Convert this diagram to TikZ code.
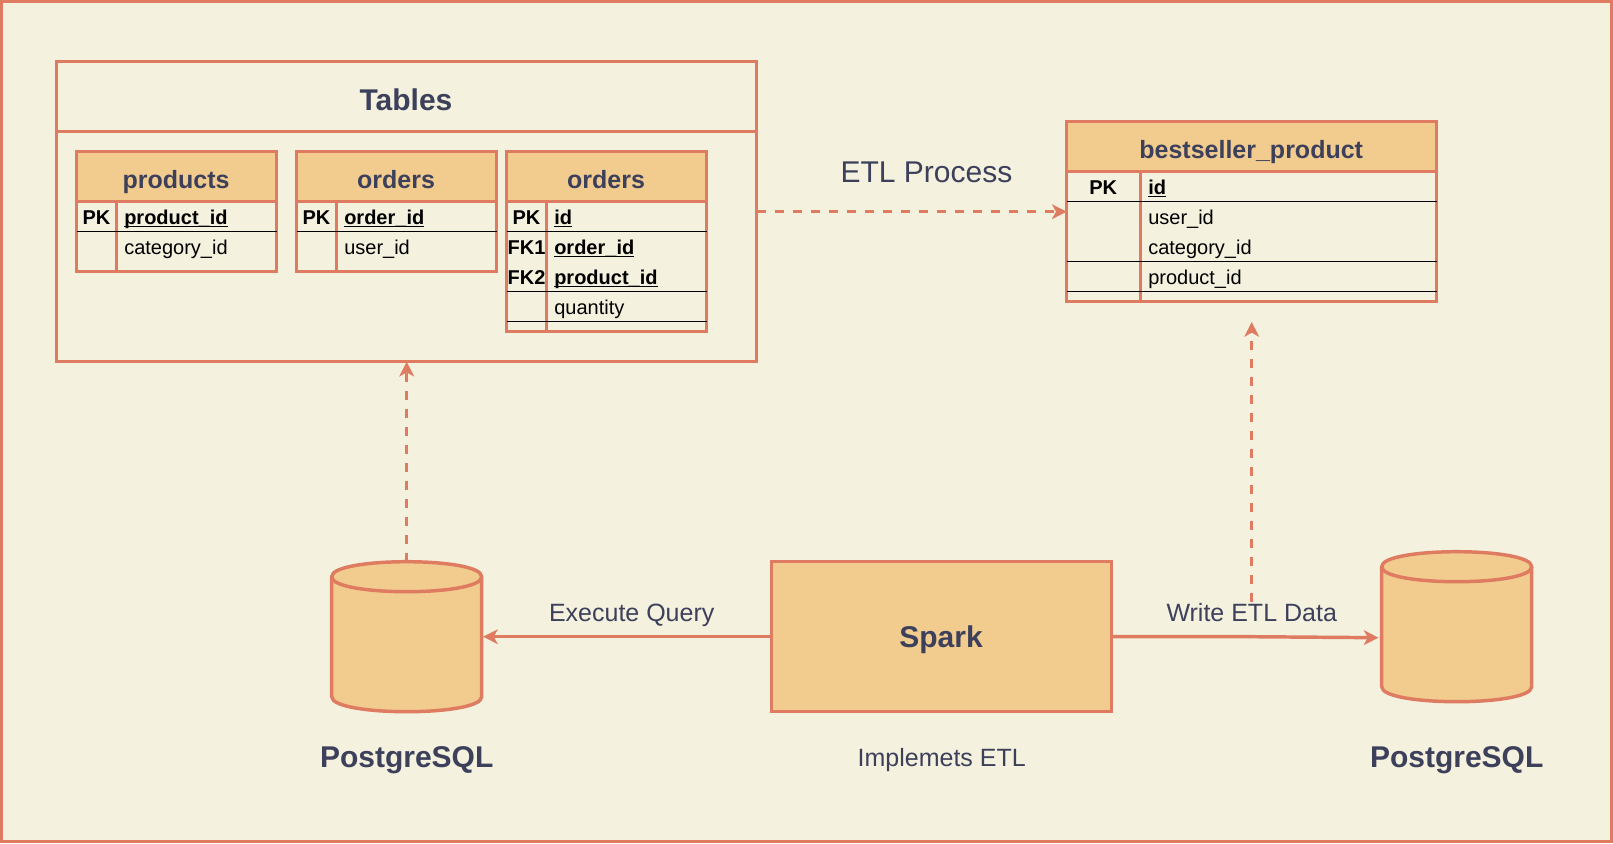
\documentclass[tikz,border=0pt]{standalone}
\usepackage{fontspec}
\setmainfont{Liberation Sans}
\usetikzlibrary{arrows.meta}
\definecolor{bgc}{HTML}{F4F1DE}
\definecolor{linec}{HTML}{DE7B60}
\definecolor{fillc}{HTML}{F2CC8F}
\definecolor{textc}{HTML}{3D405B}
\newcommand\ulbold[1]{\setbox0\hbox{#1}\rlap{\rule[-1.9pt]{\wd0}{1.1pt}}\box0}
\newcommand\ulfield[1]{\ulbold{\bfseries #1}}
\tikzset{
  x=0.75pt,y=-0.75pt,
  orange line/.style={draw=linec,line width=2.6pt},
  boxnode/.style={orange line,inner sep=0pt,outer sep=0pt,anchor=north west,line join=miter},
  cyl/.style={orange line,fill=fillc,line join=round},
  thinrow/.style={draw=black,line width=0.95pt},
  cellt/.style={inner sep=0pt,anchor=base west,text=black,font=\fontsize{15pt}{15pt}\selectfont},
  cellc/.style={inner sep=0pt,anchor=base,text=black,font=\fontsize{15pt}{15pt}\selectfont\bfseries},
  title/.style={inner sep=0pt,anchor=base,text=textc,font=\fontsize{18.75pt}{18.75pt}\selectfont\bfseries},
  bigtitle/.style={inner sep=0pt,anchor=base,text=textc,font=\fontsize{22.5pt}{22.5pt}\selectfont\bfseries},
  lab/.style={inner sep=0pt,anchor=base,text=textc,font=\fontsize{18.75pt}{18.75pt}\selectfont},
  biglab/.style={inner sep=0pt,anchor=base,text=textc,font=\fontsize{22.5pt}{22.5pt}\selectfont},
  solidarrow/.style={orange line,-{Stealth[length=11pt,width=11pt,inset=3pt]}},
  dasharrow/.style={orange line,dash pattern=on 6.75pt off 6.75pt,-{Stealth[length=11pt,width=11pt,inset=3pt]}},
}
% table frame: name, x1, y1, x2, y2, divider x
\newcommand\tableframe[6]{%
  \fill[fillc] (#2,#3) rectangle (#4,#3+50);
  \node[boxnode,minimum width=(#4-#2)*0.75pt,minimum height=(#5-#3)*0.75pt] (#1) at (#2,#3) {};
  \draw[orange line] (#2,#3+50) -- (#4,#3+50);
  \draw[orange line] (#6,#3+50) -- (#6,#5);
}
\newcommand\cylinder[3]{% name, left, top
  \draw[cyl] (#2,#3+15) .. controls (#2,#3-5) and (#2+150,#3-5) .. (#2+150,#3+15)
    -- (#2+150,#3+135) .. controls (#2+150,#3+155) and (#2,#3+155) .. (#2,#3+135) -- cycle;
  \draw[cyl,fill=none] (#2,#3+15) .. controls (#2,#3+35) and (#2+150,#3+35) .. (#2+150,#3+15);
  \node[inner sep=0pt,outer sep=0pt,minimum width=112.5pt,minimum height=112.5pt,anchor=north west] (#1) at (#2,#3) {};
}
\begin{document}
\begin{tikzpicture}
\useasboundingbox (0,0) rectangle (1613,843);
\fill[bgc] (0,0) rectangle (1613,843);
\draw[orange line] (1.7,1.7) rectangle (1611.3,841.3);

% Tables container
\node[boxnode,minimum width=525pt,minimum height=225pt] (tables) at (56.7,61.7) {};
\coordinate (tablesl) at (56.7,131.7);
\coordinate (tablesr) at (756.7,131.7);
\draw[orange line] (tablesl) -- (tablesr);
\node[bigtitle] (tablestitle) at (406,110.2) {Tables};

% products
\tableframe{prod}{76.7}{151.7}{276.7}{271.7}{116.7}
\node[title] (prodt) at (176,188.5) {products};
\draw[thinrow] (76.7,231.7) -- (276.7,231.7);
\node[cellc] (prodpk) at (96.5,224.5) {PK};
\node[cellt] (proda) at (124,224.5) {\ulfield{product\_id}};
\node[cellt] (prodb) at (124,254.5) {category\_id};

% orders
\tableframe{orda}{296.7}{151.7}{496.7}{271.7}{336.7}
\node[title] (ordat) at (396,188.5) {orders};
\draw[thinrow] (296.7,231.7) -- (496.7,231.7);
\node[cellc] (ordapk) at (316.5,224.5) {PK};
\node[cellt] (ordaa) at (344,224.5) {\ulfield{order\_id}};
\node[cellt] (ordab) at (344,254.5) {user\_id};

% orders (2)
\tableframe{ordb}{506.7}{151.7}{706.7}{331.7}{546.7}
\node[title] (ordbt) at (606,188.5) {orders};
\draw[thinrow] (506.7,231.7) -- (706.7,231.7);
\draw[thinrow] (506.7,291.7) -- (706.7,291.7);
\draw[thinrow] (506.7,321.7) -- (706.7,321.7);
\node[cellc] (ordbpk) at (526.5,224.5) {PK};
\node[cellc] (ordbfa) at (526.5,254.5) {FK1};
\node[cellc] (ordbfb) at (526.5,284.5) {FK2};
\node[cellt] (ordba) at (554,224.5) {\ulfield{id}};
\node[cellt] (ordbb) at (554,254.5) {\ulfield{order\_id}};
\node[cellt] (ordbc) at (554,284.5) {\ulfield{product\_id}};
\node[cellt] (ordbd) at (554,314.5) {quantity};

% bestseller_product
\tableframe{best}{1066.7}{121.7}{1436.7}{301.7}{1140.7}
\node[title] (bestt) at (1251.2,158.5) {bestseller\_product};
\draw[thinrow] (1066.7,201.7) -- (1436.7,201.7);
\draw[thinrow] (1066.7,261.7) -- (1436.7,261.7);
\draw[thinrow] (1066.7,291.7) -- (1436.7,291.7);
\node[cellc] (bestpk) at (1103.2,194.5) {PK};
\node[cellt] (besta) at (1148,194.5) {\ulfield{id}};
\node[cellt] (bestb) at (1148,224.5) {user\_id};
\node[cellt] (bestc) at (1148,254.5) {category\_id};
\node[cellt] (bestd) at (1148,284.5) {product\_id};

% Spark
\node[boxnode,fill=fillc,minimum width=255pt,minimum height=112.5pt] (spark) at (771.7,561.7) {};
\node[bigtitle] (sparkt) at (941,647) {Spark};
\node[lab] (implem) at (941.7,766) {Implemets ETL};

% Databases
\cylinder{dba}{331.7}{561.7}
\cylinder{dbb}{1381.7}{551.7}
\node[bigtitle] (pga) at (406.7,767.2) {PostgreSQL};
\node[bigtitle] (pgb) at (1456.7,767.2) {PostgreSQL};

% Labels
\node[biglab] (etl) at (926.5,182) {ETL Process};
\node[lab] (exq) at (631.7,621) {Execute Query};
\node[lab] (wrt) at (1251.7,621) {Write ETL Data};

% Connectors
\coordinate (wrtstart) at (1251.7,601.7);
\coordinate (bestbelow) at (1251.7,322);
\coordinate (dbbin) at (1378.5,637.7);
\draw[solidarrow,shorten >=1pt] (spark.west) -- (dba.east);
\draw[solidarrow] (spark.east) -- (1251.7,636.7) -- (dbbin);
\draw[dasharrow] (dba.north) -- (tables.south);
\draw[dasharrow] (wrtstart) -- (bestbelow);
\draw[dasharrow] (tablesr |- best.west) -- (best.west);
\end{tikzpicture}
\end{document}
